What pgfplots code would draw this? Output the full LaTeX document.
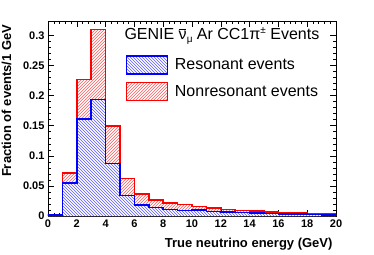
\documentclass[border=0pt]{standalone}
\usepackage{fontspec}
\setmainfont{Liberation Sans}
\usepackage{pgfplots}
\pgfplotsset{compat=1.18}
\usetikzlibrary{patterns}
\begin{document}
\begin{tikzpicture}
\useasboundingbox (-48pt,-38pt) rectangle (326pt,216pt);
\begin{axis}[
  scale only axis, width=288pt, height=195pt,
  xmin=0, xmax=20, ymin=0, ymax=0.324,
  xtick={0,2,...,20}, minor x tick num=4,
  ytick={0,0.05,0.1,0.15,0.2,0.25,0.3}, minor y tick num=4,
  yticklabels={0,0.05,0.1,0.15,0.2,0.25,0.3},
  tick align=inside, major tick length=6pt, minor tick length=3pt,
  tick style={black, line width=0.5pt},
  axis line style={line width=0.8pt},
  /pgf/number format/assume math mode=true,
  ticklabel style={font=\fontsize{11}{13}\selectfont\bfseries},
  xlabel={True neutrino energy (GeV)},
  ylabel={Fraction of events/1 GeV},
  label style={font=\fontsize{13}{15}\selectfont\bfseries},
  xlabel style={at={(axis description cs:1,-0.145)}, anchor=east},
  ylabel style={at={(axis description cs:-0.115,1)}, anchor=south east},
  legend style={draw=none, fill=none, at={(axis description cs:0.27,0.825)}, anchor=north west,
    font=\fontsize{16}{18}\selectfont, row sep=7pt, inner sep=0pt},
  legend cell align=left,
  legend image code/.code={\draw[#1, line width=1.5pt] (0pt,-9pt) rectangle (41pt,9pt);},
  clip=true,
]
% total (stack top): nonresonant on top of resonant -- fill
\addplot[const plot mark left, draw=none, pattern=north east lines, pattern color=red!65, forget plot]
coordinates {(0,0.002) (1,0.071) (2,0.227) (3,0.310) (4,0.150) (5,0.0625) (6,0.0365) (7,0.027) (8,0.022) (9,0.019)
 (10,0.016) (11,0.013) (12,0.011) (13,0.009) (14,0.0088) (15,0.007) (16,0.0055) (17,0.005) (18,0.004) (19,0.003) (20,0.003)} \closedcycle;
% resonant fill
\addplot[const plot mark left, draw=none, fill=white, forget plot]
coordinates {(0,0.002) (1,0.055) (2,0.161) (3,0.1935) (4,0.087) (5,0.034) (6,0.018) (7,0.0144) (8,0.011) (9,0.009)
 (10,0.0095) (11,0.0075) (12,0.0065) (13,0.0055) (14,0.0048) (15,0.004) (16,0.0035) (17,0.003) (18,0.0025) (19,0.002) (20,0.002)} \closedcycle;
\addplot[const plot mark left, draw=none, pattern=north west lines, pattern color=blue!65, forget plot]
coordinates {(0,0.002) (1,0.055) (2,0.161) (3,0.1935) (4,0.087) (5,0.034) (6,0.018) (7,0.0144) (8,0.011) (9,0.009)
 (10,0.0095) (11,0.0075) (12,0.0065) (13,0.0055) (14,0.0048) (15,0.004) (16,0.0035) (17,0.003) (18,0.0025) (19,0.002) (20,0.002)} \closedcycle;
% outlines
\addplot[const plot mark left, draw=red, line width=1.6pt, forget plot]
coordinates {(0,0) (0,0.002) (1,0.071) (2,0.227) (3,0.310) (4,0.150) (5,0.0625) (6,0.0365) (7,0.027) (8,0.022) (9,0.019)
 (10,0.016) (11,0.013) (12,0.011) (13,0.009) (14,0.0088) (15,0.007) (16,0.0055) (17,0.005) (18,0.004) (19,0.003) (20,0.003) (20,0)};
\addplot[const plot mark left, draw=blue, line width=1.6pt, forget plot]
coordinates {(0,0) (0,0.002) (1,0.055) (2,0.161) (3,0.1935) (4,0.087) (5,0.034) (6,0.018) (7,0.0144) (8,0.011) (9,0.009)
 (10,0.0095) (11,0.0075) (12,0.0065) (13,0.0055) (14,0.0048) (15,0.004) (16,0.0035) (17,0.003) (18,0.0025) (19,0.002) (20,0.002) (20,0)};
\addlegendimage{draw=blue, pattern=north west lines, pattern color=blue!65}
\addlegendentry{~Resonant events}
\addlegendimage{draw=red, pattern=north east lines, pattern color=red!65}
\addlegendentry{~Nonresonant events}
\node[anchor=north west, inner sep=0pt, font=\fontsize{16}{18}\selectfont] at (axis description cs:0.265,0.965)
  {GENIE ν\llap{\raisebox{10.5pt}{\rule{7.5pt}{0.7pt}}\hspace{0.3pt}}\raisebox{-3pt}{\fontsize{10}{10}\selectfont μ} Ar CC1π\raisebox{6pt}{\fontsize{10}{10}\selectfont ±} Events};
\end{axis}
\end{tikzpicture}
\end{document}
